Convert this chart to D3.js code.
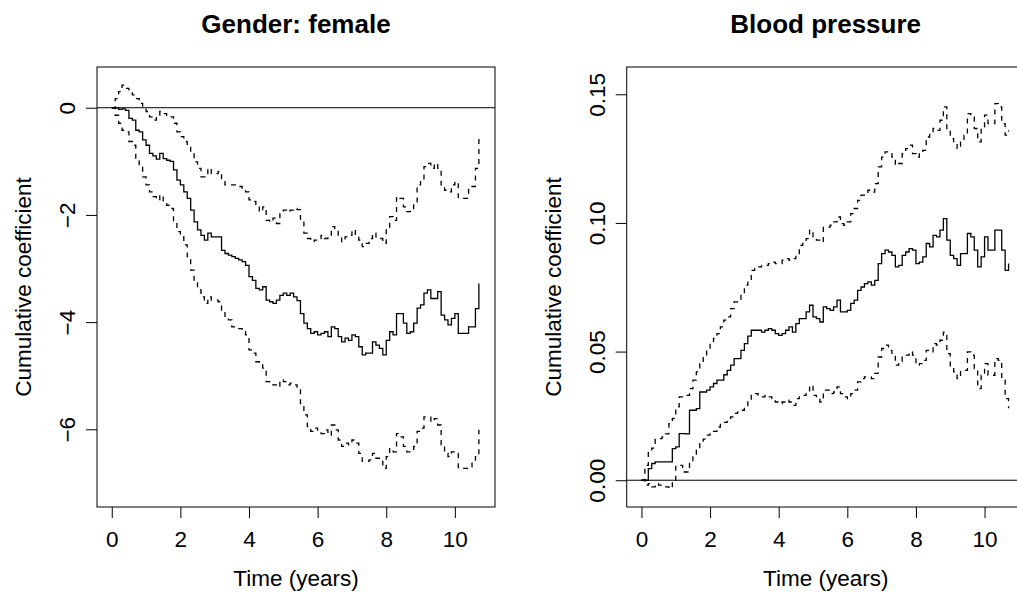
<!DOCTYPE html>
<html>
<head>
<meta charset="utf-8">
<script src="https://cdn.jsdelivr.net/npm/d3@7"></script>
<style>
  body { margin: 0; background: #fff; }
  svg { display: block; font-family: "Liberation Sans", Arial, Helvetica, sans-serif; }
</style>
</head>
<body>
<div id="chart"></div>
<script>
// time grid (years) shared by every curve
const years = [0,0.1,0.2,0.3,0.4,0.5,0.6,0.7,0.8,0.9,1,1.1,1.2,1.3,1.4,1.5,1.6,1.7,1.8,1.9,
  2,2.1,2.2,2.3,2.4,2.5,2.6,2.7,2.8,2.9,3,3.1,3.2,3.3,3.4,3.5,3.6,3.7,3.8,3.9,
  4,4.1,4.2,4.3,4.4,4.5,4.6,4.7,4.8,4.9,5,5.1,5.2,5.3,5.4,5.5,5.6,5.7,5.8,5.9,
  6,6.1,6.2,6.3,6.4,6.5,6.6,6.7,6.8,6.9,7,7.1,7.2,7.3,7.4,7.5,7.6,7.7,7.8,7.9,
  8,8.1,8.2,8.3,8.4,8.5,8.6,8.7,8.8,8.9,9,9.1,9.2,9.3,9.4,9.5,9.6,9.7,9.8,9.9,
  10,10.1,10.2,10.3,10.4,10.5,10.6,10.7]

// Gender: female
const femaleEst = [0,0,-0.03,-0.02,-0.05,-0.2,-0.23,-0.42,-0.45,-0.6,-0.7,-0.85,-0.9,-0.96,-0.85,-0.95,-0.98,-1.0,-1.16,-1.35,
  -1.44,-1.57,-1.69,-1.91,-2.13,-2.28,-2.38,-2.47,-2.34,-2.41,-2.41,-2.41,-2.66,-2.72,-2.75,-2.78,-2.81,-2.84,-2.87,-2.94,
  -3.15,-3.22,-3.37,-3.4,-3.34,-3.59,-3.62,-3.65,-3.59,-3.5,-3.46,-3.5,-3.46,-3.53,-3.6,-3.84,-4.02,-4.12,-4.21,-4.18,
  -4.24,-4.21,-4.18,-4.27,-4.09,-4.12,-4.27,-4.37,-4.3,-4.34,-4.24,-4.27,-4.46,-4.61,-4.58,-4.58,-4.37,-4.43,-4.49,-4.61,
  -4.34,-4.18,-4.24,-3.84,-3.84,-4.02,-4.21,-4.18,-4.02,-3.74,-3.68,-3.46,-3.4,-3.56,-3.56,-3.43,-3.87,-3.96,-4.05,-3.93,
  -3.84,-4.21,-4.21,-4.21,-4.09,-4.09,-3.75,-3.28]
const femaleUpper = [0,0.17,0.3,0.42,0.36,0.3,0.24,0.17,0.08,-0.01,-0.07,-0.17,-0.23,-0.14,-0.07,-0.11,-0.14,-0.17,-0.29,-0.45,
  -0.54,-0.63,-0.7,-0.82,-1.01,-1.13,-1.29,-1.29,-1.13,-1.23,-1.23,-1.19,-1.35,-1.44,-1.44,-1.44,-1.47,-1.47,-1.5,-1.57,
  -1.72,-1.75,-1.82,-1.94,-1.85,-2.1,-2.13,-2.06,-2.16,-1.94,-1.91,-1.94,-1.91,-1.88,-1.9,-2.1,-2.34,-2.44,-2.5,-2.47,
  -2.44,-2.38,-2.44,-2.41,-2.22,-2.28,-2.41,-2.5,-2.41,-2.38,-2.28,-2.38,-2.47,-2.59,-2.53,-2.44,-2.34,-2.41,-2.44,-2.53,
  -2.28,-2.03,-2.1,-1.66,-1.69,-1.85,-1.94,-1.91,-1.79,-1.44,-1.35,-1.1,-1.04,-1.13,-1.04,-1.16,-1.44,-1.54,-1.57,-1.44,
  -1.38,-1.69,-1.69,-1.69,-1.5,-1.47,-1.13,-0.57]
const femaleLower = [0,-0.14,-0.29,-0.42,-0.45,-0.63,-0.7,-0.98,-1.1,-1.29,-1.44,-1.57,-1.66,-1.72,-1.63,-1.79,-1.82,-1.88,-2.13,-2.31,
  -2.41,-2.56,-2.78,-3.03,-3.25,-3.4,-3.53,-3.65,-3.53,-3.59,-3.59,-3.62,-3.78,-3.93,-3.96,-4.09,-4.09,-4.12,-4.18,-4.24,
  -4.52,-4.58,-4.74,-4.8,-4.86,-5.11,-5.14,-5.17,-5.21,-5.08,-5.11,-5.17,-5.14,-5.17,-5.25,-5.52,-5.73,-5.95,-6.04,-5.98,
  -6.04,-6.08,-6.01,-6.11,-5.92,-6.01,-6.2,-6.32,-6.26,-6.29,-6.2,-6.26,-6.45,-6.6,-6.6,-6.57,-6.45,-6.54,-6.6,-6.73,
  -6.51,-6.36,-6.42,-6.08,-6.14,-6.32,-6.42,-6.42,-6.32,-6.04,-5.98,-5.77,-5.77,-5.86,-5.8,-5.92,-6.29,-6.45,-6.51,-6.42,
  -6.45,-6.73,-6.73,-6.73,-6.7,-6.63,-6.51,-6.01]

// Blood pressure
const bpEst = [0,0,0.0045,0.0065,0.0071,0.0071,0.0071,0.0071,0.0071,0.0123,0.013,0.0181,0.0181,0.018,0.0272,0.0272,0.0278,0.0343,0.0343,0.035,
  0.0363,0.0376,0.0389,0.0389,0.041,0.0427,0.0447,0.0473,0.0473,0.0505,0.0531,0.056,0.0583,0.0583,0.0583,0.0576,0.0583,0.0589,0.0583,0.057,
  0.0563,0.057,0.0583,0.0596,0.0576,0.0609,0.0628,0.0628,0.0654,0.068,0.0635,0.0628,0.0615,0.0674,0.0667,0.066,0.0674,0.07,0.0654,0.0654,
  0.066,0.0687,0.07,0.0738,0.0751,0.0764,0.0771,0.0758,0.0777,0.0842,0.0881,0.0894,0.0887,0.0874,0.0829,0.0835,0.0874,0.0887,0.09,0.0894,
  0.0842,0.0848,0.0868,0.092,0.0907,0.0952,0.0946,0.0972,0.1017,0.0933,0.0874,0.0861,0.0835,0.0881,0.0881,0.0959,0.0946,0.0894,0.0829,0.0868,
  0.0946,0.0894,0.0894,0.0972,0.0972,0.0894,0.0816,0.0842]
const bpUpper = [0,0.0058,0.011,0.0125,0.016,0.0162,0.0168,0.018,0.022,0.024,0.0285,0.0324,0.033,0.033,0.0356,0.0389,0.0421,0.0453,0.0479,0.0505,
  0.0531,0.0551,0.057,0.0596,0.0622,0.0635,0.0667,0.0693,0.0699,0.0725,0.0758,0.0777,0.0816,0.0823,0.0829,0.0835,0.0835,0.0842,0.0848,0.0842,
  0.0842,0.0855,0.0861,0.0855,0.0861,0.0881,0.0913,0.092,0.0939,0.0972,0.0939,0.0933,0.0926,0.0984,0.0984,0.0991,0.1004,0.1023,0.0997,0.0991,
  0.1004,0.1036,0.1056,0.1088,0.1108,0.1114,0.1127,0.112,0.1153,0.1218,0.1256,0.1276,0.1269,0.1256,0.1224,0.1231,0.1269,0.1289,0.1302,0.1269,
  0.1256,0.1269,0.1282,0.1334,0.1347,0.1367,0.136,0.1399,0.1451,0.1367,0.1328,0.1308,0.1289,0.1315,0.1341,0.1425,0.1412,0.1367,0.1315,0.1373,
  0.1419,0.1386,0.1386,0.1464,0.1451,0.1386,0.1341,0.136]
const bpLower = [0,-0.0019,-0.0013,-0.0026,-0.0013,-0.0019,-0.0026,-0.0026,-0.0032,-0.0006,0.0058,0.0058,0.0032,0.0032,0.0065,0.0097,0.012,0.0142,0.016,0.0175,
  0.0181,0.019,0.0207,0.022,0.0225,0.0233,0.0246,0.026,0.0265,0.0272,0.029,0.031,0.0337,0.0337,0.033,0.0324,0.033,0.0324,0.0317,0.0304,
  0.0298,0.0304,0.0311,0.0304,0.0291,0.0317,0.033,0.033,0.0343,0.0369,0.033,0.0317,0.0304,0.035,0.035,0.0337,0.0343,0.0363,0.0337,0.0324,
  0.0317,0.0337,0.035,0.0382,0.0395,0.0402,0.0402,0.0395,0.0415,0.0479,0.0512,0.0525,0.0505,0.0486,0.0447,0.0453,0.0479,0.0486,0.0499,0.0486,
  0.0447,0.0453,0.0466,0.0505,0.0499,0.0531,0.0525,0.0544,0.0576,0.0492,0.044,0.0421,0.0395,0.0427,0.0427,0.0499,0.0486,0.0434,0.0356,0.0408,
  0.0453,0.0408,0.0408,0.0473,0.0466,0.0389,0.0317,0.028]

const xTicks = [0, 2, 4, 6, 8, 10]
const femaleTicks = [0, -2, -4, -6]
const femaleTickLabels = ['0', '\u22122', '\u22124', '\u22126']
const bpTicks = [0, 0.05, 0.10, 0.15]
const bpTickLabels = ['0.00', '0.05', '0.10', '0.15']

const width = 1017, height = 592
const fontSize = 22.5

const svg = d3.select('#chart')
  .append('svg')
  .attr('width', width)
  .attr('height', height)

svg.append('rect').attr('width', width).attr('height', height).attr('fill', '#fff')

const panels = [
  {title: 'Gender: female', left: 97, est: femaleEst, lower: femaleLower, upper: femaleUpper,
   yDomain: [-7.45, 0.76], ticks: femaleTicks, tickLabels: femaleTickLabels},
  {title: 'Blood pressure', left: 626.7, est: bpEst, lower: bpLower, upper: bpUpper,
   yDomain: [-0.0104, 0.1606], ticks: bpTicks, tickLabels: bpTickLabels}
]

const plotTop = 67, plotBottom = 507, boxWidth = 398

panels.forEach((p, i) => {

  const g = svg.append('g')

  const x = d3.scaleLinear()
    .domain([-0.43, 11.17])
    .range([p.left, p.left + boxWidth])

  const y = d3.scaleLinear()
    .domain(p.yDomain)
    .range([plotBottom, plotTop])

  g.append('clipPath')
    .attr('id', 'clip' + i)
    .append('rect')
    .attr('x', p.left).attr('y', plotTop)
    .attr('width', boxWidth).attr('height', plotBottom - plotTop)

  const plot = g.append('g').attr('clip-path', `url(#clip${i})`)

  // reference line at zero
  plot.append('line')
    .attr('x1', p.left).attr('x2', p.left + boxWidth)
    .attr('y1', y(0)).attr('y2', y(0))
    .attr('stroke', '#000')
    .attr('stroke-width', 1)

  const line = d3.line()
    .x(d => x(d[0]))
    .y(d => y(d[1]))
    .curve(d3.curveStepAfter)

  const series = [
    {vals: p.upper, dash: '5,5'},
    {vals: p.lower, dash: '5,5'},
    {vals: p.est, dash: null}
  ]

  plot.selectAll('path.curve')
    .data(series)
    .enter()
    .append('path')
    .attr('class', 'curve')
    .attr('d', s => line(years.map((t, k) => [t, s.vals[k]])))
    .attr('fill', 'none')
    .attr('stroke', '#000')
    .attr('stroke-width', 1.3)
    .attr('stroke-dasharray', s => s.dash)

  // box
  g.append('rect')
    .attr('x', p.left).attr('y', plotTop)
    .attr('width', boxWidth).attr('height', plotBottom - plotTop)
    .attr('fill', 'none')
    .attr('stroke', '#000')
    .attr('stroke-width', 1)

  // x axis
  const xAxis = g.append('g')
    .attr('transform', `translate(0,${plotBottom})`)
    .call(d3.axisBottom(x).tickValues(xTicks).tickSize(11).tickSizeOuter(0).tickPadding(13))
  xAxis.select('.domain').remove()
  xAxis.selectAll('line').attr('stroke', '#000')
  xAxis.selectAll('text')
    .attr('fill', '#000')
    .style('font-size', fontSize + 'px')
    .style('font-family', '"Liberation Sans", Arial, sans-serif')

  // y axis, labels turned like R's las = 0
  const yAxis = g.append('g')
    .attr('transform', `translate(${p.left},0)`)
    .call(d3.axisLeft(y).tickValues(p.ticks).tickSize(11).tickSizeOuter(0)
      .tickFormat((d, k) => p.tickLabels[k]))
  yAxis.select('.domain').remove()
  yAxis.selectAll('line').attr('stroke', '#000')
  yAxis.selectAll('text')
    .attr('fill', '#000')
    .attr('x', 0)
    .attr('y', -22)
    .attr('dy', null)
    .attr('transform', 'rotate(-90)')
    .attr('text-anchor', 'middle')
    .style('font-size', fontSize + 'px')
    .style('font-family', '"Liberation Sans", Arial, sans-serif')

  const cx = p.left + boxWidth / 2

  g.append('text')
    .attr('x', cx).attr('y', 33)
    .attr('text-anchor', 'middle')
    .style('font-size', '26px')
    .style('font-weight', 'bold')
    .text(p.title)

  g.append('text')
    .attr('x', cx).attr('y', 586)
    .attr('text-anchor', 'middle')
    .style('font-size', fontSize + 'px')
    .text('Time (years)')

  g.append('text')
    .attr('transform', `translate(${p.left - 66},${(plotTop + plotBottom) / 2}) rotate(-90)`)
    .attr('text-anchor', 'middle')
    .style('font-size', fontSize + 'px')
    .text('Cumulative coefficient')
})
</script>
</body>
</html>
